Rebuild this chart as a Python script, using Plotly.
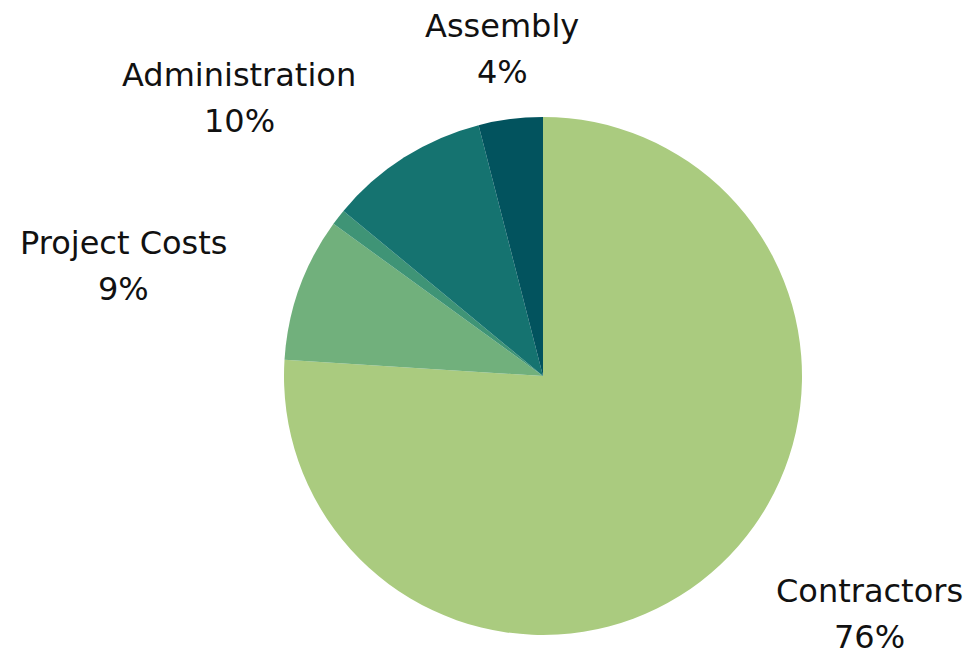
import plotly.graph_objects as go

# Budget share by category, clockwise from 12 o'clock
categories = ["Contractors", "Project Costs", "Other", "Administration", "Assembly"]
values = [76, 9, 1, 10, 4]
show_label = [True, True, False, True, True]
colors = ["#AACB7F", "#71B07C", "#3F9476", "#157370", "#02535E"]

W, H = 974, 658
cx, cy, r = 543, 376, 259  # pie centre and radius in pixels

fig = go.Figure(
    go.Pie(
        labels=categories,
        values=values,
        sort=False,
        direction="clockwise",
        rotation=0,
        marker=dict(colors=colors, line=dict(width=0)),
        textinfo="none",
        hoverinfo="label+percent",
        showlegend=False,
        domain=dict(
            x=[(cx - r) / W, (cx + r) / W],
            y=[1 - (cy + r) / H, 1 - (cy - r) / H],
        ),
    )
)

# label anchor points (pixel centre x, name baseline y) beside each slice
label_pos = {
    "Contractors": (869, 603),
    "Project Costs": (123, 255),
    "Administration": (239, 87),
    "Assembly": (502, 38),
}
font = dict(family="DejaVu Sans", size=32, color="#111111")
line_gap = 46
total = sum(values)
annotations = []
for name, val, show in zip(categories, values, show_label):
    if not show:
        continue
    px, base = label_pos[name]
    pct = f"{round(100 * val / total)}%"
    for i, txt in enumerate([name, pct]):
        yb = base + i * line_gap
        annotations.append(
            dict(
                text=txt,
                x=px / W,
                y=1 - (yb - 12) / H,
                xref="paper",
                yref="paper",
                xanchor="center",
                yanchor="middle",
                showarrow=False,
                font=font,
            )
        )

fig.update_layout(
    width=W,
    height=H,
    margin=dict(l=0, r=0, t=0, b=0),
    paper_bgcolor="white",
    plot_bgcolor="white",
    annotations=annotations,
)

fig.write_html("out.html")
